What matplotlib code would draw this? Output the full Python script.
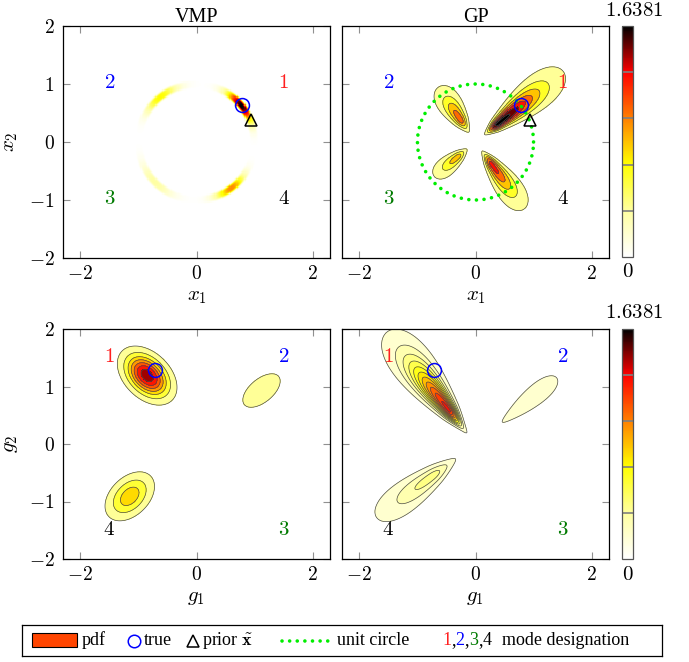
import numpy as np
import matplotlib
matplotlib.use("Agg")
import matplotlib.pyplot as plt
from matplotlib.colors import LinearSegmentedColormap, Normalize
from matplotlib.patches import Rectangle
from matplotlib.cm import ScalarMappable

plt.rcParams['font.family'] = ['Liberation Serif', 'DejaVu Serif']
plt.rcParams['mathtext.fontset'] = 'cm'

VMAX = 1.6381

# --- VMP (x space): von-Mises-like modes on the unit circle
vmp_ang = [39, 129, -136, -53]      # deg
vmp_amp = [1.6381, 0.66, 0.32, 0.95]
vmp_sig = [0.22, 0.24, 0.26, 0.21]  # rad
ring_w = 0.065

# --- GP (x space): radial teardrop modes
gpx_amp = [1.6381, 0.95, 0.70, 1.15]
gpx_ang = [39, 124, 220, -54]
gpx_rpk = [0.50, 0.47, 0.40, 0.47]
gpx_sin = [0.13, 0.13, 0.11, 0.13]
gpx_sout = [0.63, 0.33, 0.28, 0.45]
gpx_sang = [0.12, 0.15, 0.15, 0.13]
gpx_levels = [0.12, 0.35, 0.58, 0.81, 1.04, 1.27, 1.50]

# --- VMP (g space): gaussian modes 1, 2, 4
vmg_cx = [-0.85, 1.12, -1.15]
vmg_cy = [1.19, 0.93, -0.91]
vmg_ang = [-45, 40, 45]
vmg_sa = [0.29, 0.38, 0.29]
vmg_sb = [0.19, 0.20, 0.19]
vmg_amp = [1.35, 0.25, 0.68]
vmg_levels = [0.15, 0.35, 0.55, 0.72, 0.89, 1.06, 1.23]

# --- GP (g space): radial modes 1, 2, 4
gpg_amp = [1.20, 0.11, 0.33]
gpg_ang = [128, 39.5, 217]
gpg_rpk = [0.76, 1.15, 0.93]
gpg_sin = [0.21, 0.50, 0.27]
gpg_sout = [0.70, 0.60, 0.65]
gpg_sang = [0.105, 0.12, 0.11]
gpg_levels = [0.06, 0.17, 0.28, 0.39, 0.50, 0.61, 0.72, 0.83, 0.94, 1.05, 1.16]

x_true = (0.78, 0.63)
x_prior = (0.94, 0.38)
g_true = (-0.72, 1.29)

cb_marks = [0.2, 0.4, 0.6, 0.8]

cmap = LinearSegmentedColormap.from_list('wyrk', [
    (0.0, '#ffffff'), (0.2, '#ffffa0'), (0.4, '#ffff00'),
    (0.6, '#ff8000'), (0.8, '#ff0000'), (1.0, '#000000')])
norm = Normalize(0, VMAX)

xs = np.linspace(-2.3, 2.3, 461)
ys = np.linspace(-2, 2, 401)
X, Y = np.meshgrid(xs, ys)
R = np.hypot(X, Y)
T = np.arctan2(Y, X)


def wrap(a):
    return (a + np.pi) % (2 * np.pi) - np.pi


def polar_mode(amp, ang, rpk, s_in, s_out, s_ang):
    sr = np.where(R < rpk, s_in, s_out)
    dth = wrap(T - np.deg2rad(ang))
    return amp * np.exp(-0.5 * ((R - rpk) / sr) ** 2 - 0.5 * (dth / s_ang) ** 2)


def gauss_mode(amp, cx, cy, ang, sa, sb):
    c, s = np.cos(np.deg2rad(ang)), np.sin(np.deg2rad(ang))
    u = (X - cx) * c + (Y - cy) * s
    v = -(X - cx) * s + (Y - cy) * c
    return amp * np.exp(-0.5 * (u / sa) ** 2 - 0.5 * (v / sb) ** 2)


# densities
Z_vmp_x = np.zeros_like(X)
for a, m, s in zip(vmp_ang, vmp_amp, vmp_sig):
    Z_vmp_x += m * np.exp(-0.5 * (wrap(T - np.deg2rad(a)) / s) ** 2)
Z_vmp_x *= np.exp(-((R - 1) / ring_w) ** 4)

Z_gp_x = sum(polar_mode(*p) for p in zip(gpx_amp, gpx_ang, gpx_rpk, gpx_sin, gpx_sout, gpx_sang))
Z_vmp_g = sum(gauss_mode(*p) for p in zip(vmg_amp, vmg_cx, vmg_cy, vmg_ang, vmg_sa, vmg_sb))
Z_gp_g = sum(polar_mode(*p) for p in zip(gpg_amp, gpg_ang, gpg_rpk, gpg_sin, gpg_sout, gpg_sang))

fig = plt.figure(figsize=(6.89, 6.62), dpi=100)
W, H = 689, 662


def px_axes(x0, y0, x1, y1):
    return fig.add_axes([x0 / W, 1 - y1 / H, (x1 - x0) / W, (y1 - y0) / H])


ax_tl = px_axes(63, 26, 330, 258)
ax_tr = px_axes(342, 26, 609, 258)
ax_bl = px_axes(63, 329, 330, 559)
ax_br = px_axes(342, 329, 609, 559)

for ax in (ax_tl, ax_tr, ax_bl, ax_br):
    ax.set_xlim(-2.3, 2.3)
    ax.set_ylim(-2, 2)
    ax.set_xticks([-2, 0, 2])
    ax.set_xticklabels(['$-2$', '$0$', '$2$'])
    ax.set_yticks([-2, -1, 0, 1, 2])
    ax.set_yticklabels(['$-2$', '$-1$', '$0$', '$1$', '$2$'])
    ax.tick_params(direction='in', length=5, width=0.8, color='#909090',
                   top=True, right=True, labelsize=14)
    ax.tick_params(axis='x', pad=5)
    ax.tick_params(axis='y', pad=6)
    for sp in ax.spines.values():
        sp.set_linewidth(0.9)
for ax in (ax_tr, ax_br):
    ax.tick_params(labelleft=False)

# top-left: VMP in x (coarse raster like the original)
ax_tl.imshow(Z_vmp_x[::2, ::2], extent=(-2.3, 2.3, -2, 2), origin='lower',
             cmap=cmap, norm=norm, interpolation='nearest', aspect='auto')


def filled(ax, Z, levels):
    lv = list(levels) + [VMAX]
    step = levels[1] - levels[0]
    # each band takes the colour of its upper level
    cols = [cmap(norm(v + step)) for v in lv[:-1]]
    ax.contourf(X, Y, Z, levels=lv, colors=cols)
    ax.contour(X, Y, Z, levels=levels, colors='#4a4a4a', linewidths=0.5)


filled(ax_tr, Z_gp_x, gpx_levels)
filled(ax_bl, Z_vmp_g, vmg_levels)
filled(ax_br, Z_gp_g, gpg_levels)

th = np.linspace(0, 2 * np.pi, 400)
ax_tr.plot(np.cos(th), np.sin(th), color='#00ee00', lw=2.6,
           linestyle=(0, (0.01, 2.1)), dash_capstyle='round')

for ax in (ax_tl, ax_tr):
    ax.plot(*x_true, 'o', ms=10, mfc='none', mec='blue', mew=1.1)
    ax.plot(*x_prior, '^', ms=9, mfc='none', mec='black', mew=1.1)
for ax in (ax_bl, ax_br):
    ax.plot(*g_true, 'o', ms=10, mfc='none', mec='blue', mew=1.1)

mode_cols = ['#ff2020', '#0000ff', '#007a00', '#000000']
x_mode_pos = [(1.5, 1), (-1.5, 1), (-1.5, -1), (1.5, -1)]
g_mode_pos = [(-1.5, 1.5), (1.5, 1.5), (1.5, -1.5), (-1.5, -1.5)]
for ax, pos in ((ax_tl, x_mode_pos), (ax_tr, x_mode_pos),
                (ax_bl, g_mode_pos), (ax_br, g_mode_pos)):
    for k, (p, c) in enumerate(zip(pos, mode_cols)):
        ax.text(p[0], p[1], '$%d$' % (k + 1), color=c, fontsize=15,
                ha='center', va='center')

ax_tl.set_title('VMP', fontsize=14.5, pad=3)
ax_tr.set_title('GP', fontsize=14.5, pad=3)
ax_tl.set_xlabel('$x_1$', fontsize=15, labelpad=3)
ax_tr.set_xlabel('$x_1$', fontsize=15, labelpad=3)
ax_tl.set_ylabel('$x_2$', fontsize=15, labelpad=6)
ax_bl.set_xlabel('$g_1$', fontsize=15, labelpad=3)
ax_br.set_xlabel('$g_1$', fontsize=15, labelpad=3)
ax_bl.set_ylabel('$g_2$', fontsize=15, labelpad=6)

# colorbars
for (y0, y1) in ((26, 257), (329, 559)):
    cax = px_axes(622, y0, 633, y1)
    cb = fig.colorbar(ScalarMappable(norm=norm, cmap=cmap), cax=cax, ticks=[])
    cb.outline.set_edgecolor('#555555')
    cb.outline.set_linewidth(0.9)
    for f in cb_marks:
        cax.axhline(f * VMAX, color='#808080', lw=1.2)
    fig.text(634 / W, 1 - (y0 - 15) / H, '$%.4f$' % VMAX, fontsize=15,
             ha='center', va='center')
    fig.text(627.5 / W, 1 - (y1 + 16) / H, '$0$', fontsize=15,
             ha='center', va='center')

# legend box
lax = px_axes(22, 625, 662, 656)
lax.set_xlim(0, 640)
lax.set_ylim(0, 31)
lax.set_xticks([])
lax.set_yticks([])
for sp in lax.spines.values():
    sp.set_linewidth(0.9)
ty = 15.5
fs = 13
lax.add_patch(Rectangle((9.5, 9), 45, 14, facecolor='#ff4500',
                        edgecolor='black', lw=0.8))
lax.text(59.5, ty, 'pdf', fontsize=fs, va='center')
lax.plot(112, ty, 'o', ms=9, mfc='none', mec='blue', mew=1.1)
lax.text(122, ty, 'true', fontsize=fs, va='center')
lax.plot(171, ty, '^', ms=8, mfc='none', mec='black', mew=1.1)
lax.text(180.5, ty, r'prior $\tilde{\mathbf{x}}$', fontsize=fs, va='center')
lax.plot([260, 308], [ty, ty], color='#00ee00', lw=2.6,
         linestyle=(0, (0.01, 2.1)), dash_capstyle='round')
lax.text(315, ty, 'unit circle', fontsize=fs, va='center')
prev = lax.text(420, ty, '1', color=mode_cols[0], fontsize=fs, va='center')
for piece, col in ((',', 'black'), ('2', mode_cols[1]), (',', 'black'),
                   ('3', mode_cols[2]), (',', 'black'), ('4', 'black')):
    prev = lax.annotate(piece, xy=(1, 0), xycoords=prev, color=col,
                        fontsize=fs, va='bottom', ha='left')
lax.text(480, ty, 'mode designation', fontsize=fs, va='center')

fig.savefig('out.png', dpi=100)
